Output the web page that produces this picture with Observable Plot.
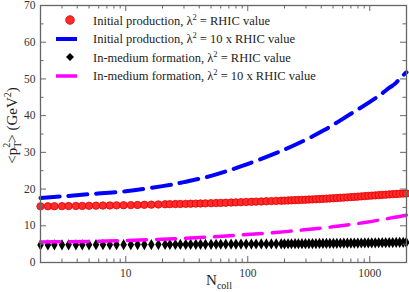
<!DOCTYPE html>
<html>
<head>
<meta charset="utf-8">
<script src="https://cdn.jsdelivr.net/npm/d3@7"></script>
<script src="https://cdn.jsdelivr.net/npm/@observablehq/plot@0.6"></script>
<style>
  html, body { margin: 0; padding: 0; background: #fff; }
  #wrap { position: relative; width: 409px; height: 292px; }
  #legend { position: absolute; left: 54px; top: 11px; font-family: "Liberation Serif", "Times New Roman", serif; font-size: 12.5px; color: #222; }
  #legend .row { display: flex; align-items: center; height: 18.5px; }
  #legend svg { width: 32px; height: 18px; margin-right: 7px; }
</style>
</head>
<body>
<div id="wrap"><div id="legend"></div></div>
<script>
// ---- data ----
const seriesNames = [
  "Initial production, λ² = RHIC value",
  "Initial production, λ² = 10 x RHIC value",
  "In-medium formation, λ² = RHIC value",
  "In-medium formation, λ² = 10 x RHIC value"
];
// marker samples (N_coll)
const Ncoll = [2, 2.3, 2.6, 3, 3.4, 3.9, 4.4, 5, 5.7, 6.5, 7.4, 8.4, 9.6, 11, 12.5, 14.2, 16.2, 18.5,
  21, 23, 25.5, 28, 31, 34, 37.5, 41, 45, 50, 55, 60, 66, 73, 80, 88, 97, 107, 117, 129, 142, 156, 171, 188,
  200, 214, 228, 244, 260, 278, 297, 317, 339, 362, 387, 413, 441, 471, 503, 537, 574, 613, 655, 700, 747, 798,
  852, 910, 972, 1038, 1109, 1184, 1265, 1351, 1443, 1541, 1646, 1758, 1878, 1990];
const initRHIC = [15.30, 15.31, 15.33, 15.35, 15.37, 15.40, 15.42, 15.45, 15.48, 15.51, 15.54, 15.57, 15.60, 15.63, 15.67, 15.71, 15.76, 15.81,
  15.86, 15.89, 15.92, 15.95, 15.98, 16.01, 16.04, 16.07, 16.11, 16.15, 16.19, 16.23, 16.28, 16.33, 16.38, 16.43, 16.48, 16.53, 16.58, 16.63, 16.68, 16.73, 16.78, 16.83,
  16.86, 16.90, 16.94, 16.98, 17.02, 17.06, 17.10, 17.15, 17.19, 17.24, 17.29, 17.34, 17.39, 17.45, 17.50, 17.56, 17.62, 17.68, 17.74, 17.81, 17.87, 17.94,
  18.01, 18.08, 18.15, 18.22, 18.28, 18.35, 18.42, 18.48, 18.55, 18.61, 18.67, 18.72, 18.77, 18.80];
const medRHIC = [4.80, 4.80, 4.81, 4.81, 4.82, 4.82, 4.83, 4.83, 4.84, 4.84, 4.85, 4.85, 4.86, 4.86, 4.87, 4.88, 4.88, 4.89,
  4.90, 4.90, 4.91, 4.92, 4.92, 4.93, 4.94, 4.94, 4.95, 4.96, 4.97, 4.97, 4.98, 4.99, 5.00, 5.01, 5.02, 5.03, 5.04, 5.05, 5.06, 5.07, 5.08, 5.09,
  5.10, 5.11, 5.11, 5.12, 5.13, 5.14, 5.14, 5.15, 5.16, 5.17, 5.18, 5.19, 5.20, 5.21, 5.22, 5.23, 5.24, 5.25, 5.27, 5.28, 5.29, 5.30,
  5.31, 5.33, 5.34, 5.35, 5.37, 5.38, 5.40, 5.41, 5.43, 5.44, 5.46, 5.47, 5.49, 5.50];
// dashed curves
const blueN = [2, 3, 5, 10, 20, 30, 50, 90, 170, 250, 420, 700, 1140, 1450, 1600, 1800, 2000];
const init10x = [17.6, 18.0, 18.6, 19.4, 20.8, 21.9, 23.6, 26.3, 29.8, 32.2, 36.0, 40.5, 45.0, 47.6, 48.6, 50.4, 51.8];
const magN = [2, 3, 5, 10, 25, 52, 89, 160, 290, 520, 910, 1600, 2000];
const med10x = [5.6, 5.65, 5.75, 6.0, 6.45, 7.0, 7.5, 8.1, 8.9, 9.8, 10.9, 12.3, 12.9];
// ticks
const xMajor = [10, 100, 1000];
const xMinor = [2, 3, 4, 5, 6, 7, 8, 9, 20, 30, 40, 50, 60, 70, 80, 90, 200, 300, 400, 500, 600, 700, 800, 900];
const yMajor = [0, 10, 20, 30, 40, 50, 60, 70];
const yMinor = [5, 15, 25, 35, 45, 55, 65];

const pts = Ncoll.map((n, i) => ({n, a: initRHIC[i], b: medRHIC[i]}));
const blue = blueN.map((n, i) => ({n, v: init10x[i]}));
const mag = magN.map((n, i) => ({n, v: med10x[i]}));

const W = 409, H = 292, mL = 40, mR = 3, mT = 5, mB = 30;
const iw = W - mL - mR, ih = H - mT - mB;
const axisCol = "#666";
const font = "'Liberation Serif', 'Times New Roman', serif";

const chart = Plot.plot({
  width: W, height: H,
  marginLeft: mL, marginRight: mR, marginTop: mT, marginBottom: mB,
  style: {fontFamily: font, fontSize: "11.5px", color: "#333", background: "#fff"},
  x: {type: "log", domain: [2, 2000]},
  y: {domain: [0, 70]},
  marks: [
    Plot.line(blue, {x: "n", y: "v", stroke: "#0000ff", strokeWidth: 4, strokeDasharray: "19,9", curve: "catmull-rom"}),
    Plot.dot(pts, {x: "n", y: "a", r: 3.7, fill: "#ff2a2a", stroke: "#e00000", strokeWidth: 0.8}),
    Plot.dot(pts, {x: "n", y: "b", r: 3.4, symbol: "diamond", fill: "#000"}),
    Plot.line(mag, {x: "n", y: "v", stroke: "#ff00ff", strokeWidth: 3.5, strokeDasharray: "19,10", curve: "catmull-rom"}),
    // ticks (inward) on all sides
    Plot.ruleX(xMajor, {stroke: axisCol, insetTop: ih - 6}),
    Plot.ruleX(xMinor, {stroke: axisCol, insetTop: ih - 3.5}),
    Plot.ruleX(xMajor, {stroke: axisCol, insetBottom: ih - 6}),
    Plot.ruleX(xMinor, {stroke: axisCol, insetBottom: ih - 3.5}),
    Plot.ruleY(yMajor, {stroke: axisCol, insetRight: iw - 6}),
    Plot.ruleY(yMinor, {stroke: axisCol, insetRight: iw - 3.5}),
    Plot.ruleY(yMajor, {stroke: axisCol, insetLeft: iw - 6}),
    Plot.ruleY(yMinor, {stroke: axisCol, insetLeft: iw - 3.5}),
    Plot.frame({stroke: axisCol, strokeWidth: 1.3}),
    Plot.axisX({ticks: xMajor, tickFormat: d => String(d), tickSize: 0, tickPadding: 6, label: null, fill: "#333"}),
    Plot.axisY({ticks: yMajor, tickSize: 0, tickPadding: 5, label: null, fill: "#333"})
  ]
});
document.getElementById("wrap").prepend(chart);

// axis titles with sub/superscripts
const svg = d3.select(chart);
const yl = svg.append("text")
  .attr("transform", `translate(17,${mT + ih / 2 - 8}) rotate(-90)`)
  .attr("text-anchor", "middle")
  .attr("font-family", font).attr("font-size", 15).attr("fill", "#222");
yl.append("tspan").text("<p");
yl.append("tspan").attr("font-size", 10).attr("dy", 4).text("T");
yl.append("tspan").attr("font-size", 10).attr("dx", -6).attr("dy", -11).text("2");
yl.append("tspan").attr("dy", 7).text("> (GeV");
yl.append("tspan").attr("font-size", 10).attr("dy", -6).text("2");
yl.append("tspan").attr("dy", 6).text(")");

const xl = svg.append("text")
  .attr("x", mL + iw / 2 - 4).attr("y", H - 7)
  .attr("text-anchor", "middle")
  .attr("font-family", font).attr("font-size", 15).attr("fill", "#222");
xl.append("tspan").text("N");
xl.append("tspan").attr("font-size", 10).attr("dy", 4).text("coll");

// legend
const legend = d3.select("#legend");
const styles = [
  {type: "dot", color: "#ff2a2a"},
  {type: "line", color: "#0000ff", w: 4},
  {type: "diamond", color: "#000"},
  {type: "line", color: "#ff00ff", w: 3.5}
];
seriesNames.forEach((name, i) => {
  const row = legend.append("div").attr("class", "row");
  const s = row.append("svg").attr("viewBox", "0 0 32 18");
  const st = styles[i];
  if (st.type === "dot") s.append("circle").attr("cx", 16).attr("cy", 9).attr("r", 4.3).attr("fill", st.color).attr("stroke", "#e00000").attr("stroke-width", 0.8);
  if (st.type === "diamond") s.append("path").attr("d", "M16,5L20,9L16,13L12,9Z").attr("fill", st.color);
  if (st.type === "line") s.append("line").attr("x1", 2).attr("x2", 23).attr("y1", 9).attr("y2", 9).attr("stroke", st.color).attr("stroke-width", st.w);
  const t = row.append("span");
  const parts = name.split("²");
  t.append("span").text(parts[0]);
  t.append("sup").style("font-size", "8.5px").text("2");
  t.append("span").text(parts[1]);
});
</script>
</body>
</html>
